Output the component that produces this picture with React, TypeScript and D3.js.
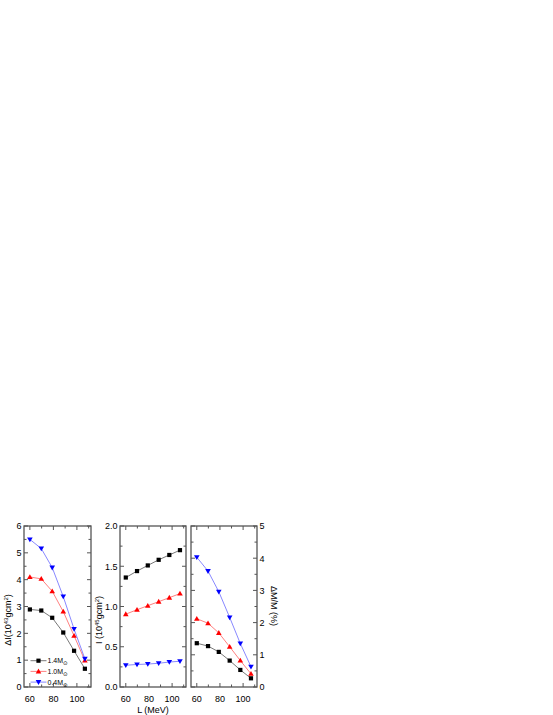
import React from 'react';
import * as d3 from 'd3';

const L = [60, 69.7, 79, 88.4, 97.6, 106.8];
const dI_14 = [2.89, 2.85, 2.58, 2.03, 1.35, 0.68];
const dI_10 = [4.1, 4.03, 3.57, 2.81, 1.91, 0.99];
const dI_04 = [5.5, 5.16, 4.45, 3.37, 2.16, 1.05];
const I_14 = [1.36, 1.44, 1.51, 1.58, 1.64, 1.7];
const I_10 = [0.905, 0.96, 1.01, 1.06, 1.11, 1.16];
const I_04 = [0.27, 0.28, 0.285, 0.295, 0.31, 0.32];
const dM_14 = [1.36, 1.27, 1.09, 0.82, 0.53, 0.27];
const dM_10 = [2.12, 1.98, 1.68, 1.25, 0.82, 0.41];
const dM_04 = [4.03, 3.6, 2.96, 2.16, 1.35, 0.63];

const xMajor = [60, 80, 100];
const xMinor = [70, 90, 110];

const FONT = "'Liberation Sans', Arial, sans-serif";
const TOP = 526;
const BOT = 687;
const FRAME = '#555';

type Series = { vals: number[]; color: string; line: string; marker: 'sq' | 'up' | 'down' };

function Marker({ x, y, kind, color }: { x: number; y: number; kind: string; color: string }) {
  if (kind === 'sq') return <rect x={x - 2.1} y={y - 2.1} width={4.2} height={4.2} fill={color} />;
  if (kind === 'up') return <path d={`M${x},${y - 2.8}L${x + 2.8},${y + 2}L${x - 2.8},${y + 2}Z`} fill={color} />;
  return <path d={`M${x},${y + 2.8}L${x + 2.8},${y - 2}L${x - 2.8},${y - 2}Z`} fill={color} />;
}

function Panel({
  x0, x1, yMax, yMajor, yMinor, series, labelSide, fmt,
}: {
  x0: number; x1: number; yMax: number; yMajor: number[]; yMinor: number[];
  series: Series[]; labelSide: 'left' | 'right'; fmt: (v: number) => string;
}) {
  const xs = d3.scaleLinear().domain([55, 112]).range([x0, x1]);
  const ys = d3.scaleLinear().domain([0, yMax]).range([BOT, TOP]);
  const line = d3.line<number>().x((_, i) => xs(L[i])).y((v) => ys(v));
  const maj = 4, mn = 2.5;
  return (
    <g>
      {series.map((s, k) => (
        <g key={k}>
          <path d={line(s.vals) || ''} fill="none" stroke={s.line} strokeWidth={0.8} />
          {s.vals.map((v, i) => (
            <Marker key={i} x={xs(L[i])} y={ys(v)} kind={s.marker} color={s.color} />
          ))}
        </g>
      ))}
      <rect x={x0} y={TOP} width={x1 - x0} height={BOT - TOP} fill="none" stroke={FRAME} strokeWidth={1.3} />
      {xMajor.concat(xMinor).map((t) => {
        const len = xMajor.includes(t) ? maj : mn;
        const px = xs(t);
        if (px > x1 - 1) return null;
        return (
          <g key={'x' + t} stroke={FRAME} strokeWidth={1}>
            <line x1={px} x2={px} y1={BOT} y2={BOT - len} />
            <line x1={px} x2={px} y1={TOP} y2={TOP + len} />
          </g>
        );
      })}
      {yMajor.concat(yMinor).map((t) => {
        const len = yMajor.includes(t) ? maj : mn;
        const py = ys(t);
        return (
          <g key={'y' + t} stroke={FRAME} strokeWidth={1}>
            <line x1={x0} x2={x0 + len} y1={py} y2={py} />
            <line x1={x1} x2={x1 - len} y1={py} y2={py} />
          </g>
        );
      })}
      {xMajor.map((t) => (
        <text key={'xl' + t} x={xs(t)} y={702} fontSize={9} textAnchor="middle" fontFamily={FONT}>{t}</text>
      ))}
      {yMajor.map((t) => (
        <text key={'yl' + t}
          x={labelSide === 'left' ? x0 - 2.5 : x1 + 2.5}
          y={ys(t) + 3.3} fontSize={9}
          textAnchor={labelSide === 'left' ? 'end' : 'start'} fontFamily={FONT}>{fmt(t)}</text>
      ))}
    </g>
  );
}

export default function App() {
  const s1: Series[] = [
    { vals: dI_14, color: '#000', line: '#555', marker: 'sq' },
    { vals: dI_10, color: '#ff0000', line: '#ff6060', marker: 'up' },
    { vals: dI_04, color: '#0000ff', line: '#6a6aff', marker: 'down' },
  ];
  const s2: Series[] = [
    { vals: I_14, color: '#000', line: '#555', marker: 'sq' },
    { vals: I_10, color: '#ff0000', line: '#ff6060', marker: 'up' },
    { vals: I_04, color: '#0000ff', line: '#6a6aff', marker: 'down' },
  ];
  const s3: Series[] = [
    { vals: dM_14, color: '#000', line: '#555', marker: 'sq' },
    { vals: dM_10, color: '#ff0000', line: '#ff6060', marker: 'up' },
    { vals: dM_04, color: '#0000ff', line: '#6a6aff', marker: 'down' },
  ];
  const legend = [
    { label: '1.4M', color: '#000', line: '#555', marker: 'sq' },
    { label: '1.0M', color: '#ff0000', line: '#ff6060', marker: 'up' },
    { label: '0.4M', color: '#0000ff', line: '#6a6aff', marker: 'down' },
  ];
  return (
    <svg width={553} height={715} style={{ position: 'absolute', left: 0, top: 0 }}>
      <rect width={553} height={715} fill="#fff" />
      <Panel x0={24} x1={91} yMax={6} yMajor={[0, 1, 2, 3, 4, 5, 6]} yMinor={[0.5, 1.5, 2.5, 3.5, 4.5, 5.5]}
        series={s1} labelSide="left" fmt={(v) => String(v)} />
      <Panel x0={120} x1={186} yMax={2} yMajor={[0, 0.5, 1, 1.5, 2]} yMinor={[0.25, 0.75, 1.25, 1.75]}
        series={s2} labelSide="left" fmt={(v) => v.toFixed(1)} />
      <Panel x0={191} x1={257} yMax={5} yMajor={[0, 1, 2, 3, 4, 5]} yMinor={[0.5, 1.5, 2.5, 3.5, 4.5]}
        series={s3} labelSide="right" fmt={(v) => String(v)} />
      {legend.map((l, i) => {
        const y = 660.7 + i * 10.7;
        return (
          <g key={i}>
            <line x1={30.5} x2={46.5} y1={y} y2={y} stroke={l.line} strokeWidth={0.8} />
            <Marker x={38.5} y={y} kind={l.marker} color={l.color} />
            <text x={47.5} y={y + 2.5} fontSize={7} fontFamily={FONT}>
              {l.label}
              <tspan dy={2} fontSize={5.5} fontFamily="'DejaVu Sans', sans-serif">⊙</tspan>
            </text>
          </g>
        );
      })}
      <text transform="translate(11,620) rotate(-90)" fontSize={9} textAnchor="middle" fontFamily={FONT}>
        ΔI(10<tspan dy={-3} fontSize={6}>43</tspan><tspan dy={3}>gcm</tspan><tspan dy={-3} fontSize={6}>2</tspan><tspan dy={3}>)</tspan>
      </text>
      <text transform="translate(102,620) rotate(-90)" fontSize={9} textAnchor="middle" fontFamily={FONT}>
        I (10<tspan dy={-3} fontSize={6}>45</tspan><tspan dy={3}>gcm</tspan><tspan dy={-3} fontSize={6}>2</tspan><tspan dy={3}>)</tspan>
      </text>
      <text transform="translate(271,606) rotate(90)" fontSize={9} textAnchor="middle" fontFamily={FONT}>
        ΔM/M (%)
      </text>
      <text x={153} y={713} fontSize={9} textAnchor="middle" fontFamily={FONT}>L (MeV)</text>
    </svg>
  );
}
